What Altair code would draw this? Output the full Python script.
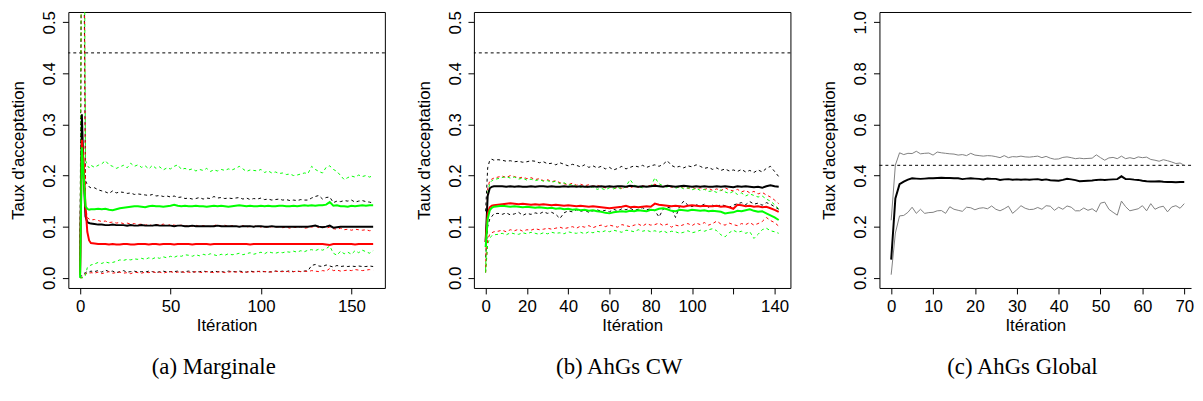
import altair as alt
import pandas as pd

# ---------------- data (acceptance rates in thousandths) ----------------
TARGET = [0.44]

# (a) Marginale : iterations 0..6 then every 2nd iteration up to 162
ITER_A = [0, 1, 2, 3, 4, 5, 6] + list(range(8, 163, 2))
A_BLK_MEAN = [10, 320, 200, 120, 109, 107, 106,
              105, 104, 104, 103, 103, 104, 103, 103, 103, 102, 103, 102, 102,
              103, 102, 102, 102, 103, 102, 102, 102, 102, 101, 102, 102, 101,
              101, 102, 101, 101, 101, 101, 101, 101, 102, 101, 101, 101, 101,
              101, 100, 101, 101, 101, 100, 101, 101, 100, 100, 101, 100, 100,
              100, 100, 100, 100, 100, 100, 100, 100, 101, 102, 100, 99, 100,
              102, 98, 99, 100, 100, 100, 100, 100, 100, 100, 100, 100, 100]
A_BLK_HI = [20, 900, 700, 190, 182, 178, 176,
            176, 172, 170, 168, 165, 170, 166, 168, 167, 165, 166, 163, 164,
            163, 162, 161, 163, 160, 161, 159, 160, 158, 160, 157, 158, 155,
            156, 154, 155, 157, 154, 156, 155, 159, 156, 157, 155, 156, 155,
            156, 157, 154, 156, 153, 155, 154, 156, 153, 154, 152, 153, 154,
            152, 153, 151, 152, 151, 153, 152, 152, 156, 159, 161, 154, 157,
            158, 147, 150, 149, 151, 150, 152, 148, 150, 151, 149, 148, 146]
A_BLK_LO = [0, 5, 8, 10, 12, 11, 13,
            12, 14, 11, 15, 12, 13, 10, 12, 14, 11, 12, 13, 11,
            12, 11, 13, 12, 10, 12, 13, 11, 12, 12, 13, 11, 12,
            13, 12, 11, 12, 13, 12, 11, 13, 12, 12, 11, 13, 12,
            12, 13, 12, 11, 13, 12, 12, 13, 12, 11, 12, 13, 12,
            13, 12, 14, 12, 13, 12, 13, 14, 24, 26, 23, 22, 25,
            23, 21, 24, 22, 23, 22, 23, 22, 23, 22, 22, 23, 22]
A_RED_MEAN = [5, 270, 220, 140, 90, 73, 68,
              67, 66, 66, 66, 65, 66, 65, 65, 66, 66, 65, 65, 66,
              66, 66, 65, 66, 66, 65, 66, 66, 66, 65, 66, 66, 66,
              66, 65, 66, 66, 66, 66, 65, 66, 66, 66, 66, 66, 66,
              66, 66, 66, 66, 65, 66, 66, 66, 66, 66, 66, 66, 66,
              66, 66, 66, 66, 66, 66, 66, 66, 66, 66, 66, 66, 65,
              64, 66, 66, 66, 66, 66, 66, 65, 66, 66, 66, 66, 66]
A_RED_HI = [10, 800, 900, 140, 118, 115, 113,
            114, 112, 110, 111, 108, 109, 107, 108, 106, 107, 105, 106, 104,
            105, 103, 104, 102, 104, 103, 105, 102, 104, 103, 102, 103, 101,
            102, 101, 103, 100, 102, 101, 100, 102, 104, 101, 103, 100, 102,
            101, 100, 102, 99, 101, 100, 102, 99, 100, 98, 100, 99, 100,
            98, 99, 97, 99, 98, 100, 97, 98, 99, 101, 98, 100, 97,
            99, 96, 95, 97, 94, 95, 93, 95, 94, 93, 94, 92, 93]
A_RED_LO = [0, 0, 3, 8, 9, 8, 10,
            9, 11, 8, 10, 12, 9, 10, 11, 9, 10, 8, 11, 10,
            9, 11, 10, 12, 10, 11, 9, 11, 12, 10, 11, 12, 10,
            11, 10, 12, 11, 10, 12, 11, 10, 11, 12, 10, 11, 12,
            11, 12, 10, 11, 12, 11, 13, 11, 12, 12, 11, 13, 12,
            12, 13, 11, 12, 13, 12, 13, 12, 14, 13, 12, 14, 13,
            18, 14, 15, 13, 14, 15, 14, 16, 15, 14, 15, 16, 15]
A_GRN_MEAN = [0, 255, 200, 140, 135, 133, 134,
              134, 135, 134, 135, 133, 132, 134, 136, 137, 138, 139, 140, 140,
              139, 138, 140, 141, 140, 140, 139, 140, 141, 143, 141, 140, 141,
              140, 140, 141, 140, 140, 139, 140, 141, 140, 141, 140, 139, 140,
              141, 142, 141, 140, 141, 140, 140, 141, 140, 141, 140, 140, 141,
              141, 140, 140, 141, 140, 141, 142, 141, 142, 141, 142, 142, 143,
              148, 141, 142, 140, 140, 139, 141, 140, 141, 142, 141, 142, 142]
A_GRN_HI = [10, 900, 950, 230, 220, 215, 220,
            216, 220, 223, 229, 221, 218, 214, 217, 220, 215, 224, 218, 221,
            216, 219, 213, 220, 214, 217, 211, 215, 213, 218, 221, 212, 214,
            211, 213, 209, 212, 210, 214, 208, 211, 209, 212, 210, 213, 211,
            214, 218, 213, 208, 211, 210, 209, 212, 206, 209, 205, 207, 204,
            205, 202, 203, 200, 201, 203, 205, 204, 218, 212, 208, 205, 216,
            219, 212, 208, 200, 192, 196, 199, 197, 201, 198, 200, 197, 200]
A_GRN_LO = [0, 0, 0, 5, 20, 22, 25,
            27, 30, 28, 31, 29, 30, 32, 35, 34, 36, 35, 37, 36,
            38, 36, 39, 37, 40, 38, 41, 39, 42, 40, 43, 42, 45,
            44, 42, 45, 43, 46, 44, 47, 45, 43, 46, 44, 47, 45,
            46, 48, 45, 47, 49, 46, 48, 50, 47, 51, 49, 48, 50,
            49, 51, 50, 52, 50, 53, 51, 54, 55, 53, 56, 54, 57,
            62, 48, 44, 52, 47, 50, 46, 53, 49, 54, 51, 48, 53]

# (b) AhGs CW : iterations 0..4 then every 2nd iteration up to 142
ITER_B = [0, 1, 2, 3, 4] + list(range(6, 143, 2))
B_BLK_MEAN = [70, 160, 175, 178, 179,
              179, 179, 178, 179, 178, 179, 178, 178, 179, 178, 179, 179, 178,
              179, 178, 178, 179, 178, 179, 178, 179, 178, 178, 179, 178, 179,
              178, 179, 178, 179, 179, 178, 180, 179, 178, 179, 178, 179, 180,
              179, 178, 180, 179, 178, 179, 180, 179, 178, 179, 178, 179, 178,
              178, 179, 178, 179, 178, 177, 179, 178, 179, 178, 177, 178, 176,
              179, 181, 179, 178]
B_BLK_HI = [130, 215, 230, 232, 230,
            231, 230, 228, 229, 227, 228, 226, 227, 229, 228, 225, 227, 223,
            224, 221, 225, 222, 219, 222, 220, 217, 221, 216, 219, 215, 218,
            213, 216, 211, 214, 218, 213, 216, 219, 217, 220, 216, 219, 221,
            218, 222, 229, 220, 216, 218, 215, 219, 217, 221, 218, 214, 216,
            212, 215, 210, 213, 209, 211, 208, 212, 207, 210, 206, 211, 207,
            214, 218, 208, 198]
B_BLK_LO = [40, 100, 115, 120, 125,
            126, 124, 127, 123, 125, 128, 122, 126, 124, 127, 125, 129, 126,
            128, 124, 116, 127, 131, 129, 133, 130, 132, 128, 131, 133, 130,
            132, 129, 134, 131, 135, 133, 136, 132, 134, 137, 133, 135, 131,
            119, 134, 138, 136, 118, 140, 150, 142, 139, 143, 140, 144, 138,
            142, 139, 143, 141, 138, 142, 145, 147, 143, 149, 144, 146, 142,
            147, 144, 139, 134]
B_RED_MEAN = [70, 125, 138, 141, 142,
              143, 144, 145, 146, 145, 144, 145, 144, 143, 144, 143, 144, 143,
              142, 143, 142, 141, 142, 141, 140, 141, 140, 139, 140, 139, 138,
              137, 136, 137, 138, 139, 141, 138, 139, 138, 139, 140, 139, 145,
              143, 142, 141, 140, 141, 140, 139, 141, 142, 141, 140, 141, 140,
              140, 141, 139, 140, 138, 135, 143, 142, 140, 141, 139, 140, 138,
              139, 136, 133, 129]
B_RED_HI = [20, 175, 190, 193, 195,
            197, 199, 196, 200, 198, 195, 197, 194, 196, 192, 194, 190, 192,
            188, 190, 186, 184, 182, 185, 181, 183, 180, 182, 179, 181, 178,
            176, 179, 174, 177, 175, 178, 176, 179, 177, 180, 178, 181, 183,
            180, 178, 181, 177, 179, 176, 178, 175, 177, 174, 176, 173, 175,
            171, 174, 170, 176, 172, 170, 173, 168, 171, 166, 169, 164, 167,
            162, 158, 152, 145]
B_RED_LO = [10, 75, 85, 88, 90,
            91, 93, 90, 94, 92, 95, 91, 94, 93, 96, 94, 95, 97,
            95, 97, 99, 96, 98, 100, 97, 101, 99, 102, 98, 101, 103,
            100, 103, 101, 99, 104, 102, 100, 103, 105, 101, 106, 103, 104,
            107, 102, 105, 99, 103, 101, 104, 106, 102, 107, 104, 108, 103,
            106, 111, 105, 103, 107, 104, 102, 106, 104, 108, 103, 106, 110,
            118, 112, 108, 101]
B_GRN_MEAN = [60, 115, 132, 137, 139,
              140, 141, 140, 139, 140, 139, 138, 139, 138, 137, 138, 137, 136,
              137, 135, 136, 134, 135, 133, 134, 132, 133, 131, 132, 130, 129,
              127, 126, 128, 129, 130, 129, 131, 130, 132, 131, 130, 133, 132,
              135, 136, 134, 131, 130, 133, 132, 131, 133, 132, 131, 132, 130,
              131, 130, 129, 126, 127, 128, 131, 130, 132, 134, 131, 129, 130,
              126, 122, 118, 113]
B_GRN_HI = [15, 165, 185, 190, 192,
            194, 196, 198, 195, 197, 193, 195, 191, 193, 190, 192, 189, 190,
            187, 189, 184, 186, 181, 183, 179, 177, 180, 176, 178, 173, 175,
            172, 176, 174, 177, 173, 179, 192, 181, 178, 176, 179, 177, 196,
            184, 180, 177, 179, 175, 178, 174, 176, 172, 175, 171, 173, 169,
            170, 167, 172, 168, 165, 169, 163, 166, 160, 164, 161, 158, 160,
            154, 150, 143, 135]
B_GRN_LO = [10, 65, 78, 82, 84,
            85, 87, 84, 88, 86, 85, 88, 86, 89, 87, 85, 88, 86,
            89, 87, 88, 86, 90, 88, 87, 89, 86, 90, 88, 91, 89,
            92, 90, 93, 91, 89, 93, 92, 90, 94, 91, 93, 90, 92,
            89, 92, 88, 91, 90, 87, 89, 92, 88, 90, 93, 91, 94,
            96, 92, 84, 80, 88, 93, 89, 91, 87, 90, 77, 85, 94,
            97, 92, 90, 87]

# (c) AhGs Global : iterations 0..70
ITER_C = list(range(0, 71))
C_MEAN = [71, 310, 366, 376, 384, 389, 388, 387, 388, 389,
          389, 390, 391, 390, 390, 389, 389, 386, 388, 389,
          388, 387, 385, 388, 387, 387, 383, 385, 386, 384,
          385, 384, 385, 384, 385, 386, 383, 385, 382, 381,
          380, 383, 387, 385, 382, 378, 379, 380, 381, 383,
          384, 383, 384, 385, 386, 397, 386, 386, 384, 383,
          380, 378, 377, 377, 378, 376, 375, 375, 374, 375,
          375]
C_HI = [225, 441, 489, 482, 487, 486, 495, 485, 487, 488,
        480, 492, 489, 487, 485, 484, 480, 482, 478, 487,
        480, 478, 476, 478, 477, 474, 470, 478, 470, 474,
        473, 476, 473, 472, 474, 476, 470, 475, 468, 464,
        465, 471, 473, 470, 466, 468, 466, 467, 468, 481,
        470, 460, 469, 471, 466, 476, 466, 470, 466, 473,
        470, 472, 463, 460, 456, 462, 458, 453, 447, 449,
        440]
C_LO = [12, 175, 242, 244, 256, 276, 252, 268, 252, 255,
        256, 262, 263, 252, 278, 268, 264, 260, 276, 274,
        266, 272, 274, 270, 281, 268, 262, 270, 280, 252,
        266, 282, 272, 267, 268, 275, 268, 282, 280, 264,
        276, 268, 281, 276, 262, 262, 273, 264, 270, 258,
        292, 296, 268, 256, 245, 300, 278, 262, 266, 270,
        282, 262, 290, 268, 276, 280, 258, 277, 282, 272,
        290]

CAPTIONS = ["(a)  Marginale", "(b)  AhGs CW", "(c)  AhGs Global"]
XTICKS_A = [0, 50, 100, 150]
XTICKS_B = [0, 20, 40, 60, 80, 100, 120, 140]
XTICKS_C = [0, 10, 20, 30, 40, 50, 60, 70]
YTICKS_AB = [0.0, 0.1, 0.2, 0.3, 0.4, 0.5]
YTICKS_C = [0.0, 0.2, 0.4, 0.6, 0.8, 1.0]

BLACK, RED, GREEN, GREY = "#000000", "#FF0000", "#00FF00", "#808080"
FONT = "Liberation Sans"
LABEL_SIZE = 17
TITLE_SIZE = 17


def frame(iters, series):
    rows = []
    for name, color, kind, width, vals in series:
        assert len(vals) == len(iters), (name, len(vals), len(iters))
        for it, v in zip(iters, vals):
            rows.append({"it": it, "rate": v / 1000.0, "series": name,
                         "col": color, "kind": kind, "w": width})
    return pd.DataFrame(rows)


def axes(xticks, yticks, label_expr=None, domain=False):
    xkw = dict(values=xticks, title="Itération", labelFont=FONT,
               labelFontSize=LABEL_SIZE, labelColor="black", labelBaseline="top",
               labelPadding=5, tickSize=6, tickColor="black", tickWidth=1,
               domain=domain, domainColor="black", domainWidth=1, grid=False,
               titleFont=FONT, titleFontSize=TITLE_SIZE, titleFontWeight="normal",
               titleColor="black", titlePadding=3, labelOverlap=False,
               labelFlush=False, minExtent=0)
    if label_expr:
        xkw["labelExpr"] = label_expr
    xa = alt.Axis(**xkw)
    ya = alt.Axis(values=yticks, format=".1f", title="Taux d'acceptation",
                  labelFont=FONT, labelFontSize=LABEL_SIZE, labelColor="black",
                  labelAngle=270, labelAlign="center", labelBaseline="alphabetic",
                  labelPadding=8, tickSize=6, tickColor="black", tickWidth=1,
                  domain=domain, domainColor="black", domainWidth=1, grid=False,
                  titleFont=FONT, titleFontSize=TITLE_SIZE, titleFontWeight="normal",
                  titleColor="black", titleAngle=270, titleAlign="center",
                  titleBaseline="alphabetic", titleX=-45, labelOverlap=False,
                  labelFlush=False, minExtent=0)
    return xa, ya


def caption(text):
    return alt.TitleParams(text=text, orient="bottom", anchor="middle",
                           font="Liberation Serif", fontSize=23,
                           fontWeight="normal", color="black", offset=23, dx=-13)


def panel_colored(iters, series, xdom, xticks, width, cap, label_expr=None):
    df = frame(iters, series)
    dfq = df[df["kind"] != "mean"]
    dfm = df[df["kind"] == "mean"]
    xs = alt.Scale(domain=xdom, nice=False, zero=False)
    ys = alt.Scale(domain=[-0.02, 0.52], nice=False, zero=False)
    xa, ya = axes(xticks, YTICKS_AB, label_expr)
    X = alt.X("it:Q", scale=xs, axis=xa)
    Y = alt.Y("rate:Q", scale=ys, axis=ya)
    ref = alt.Chart(pd.DataFrame({"rate": TARGET})).mark_rule(
        color="black", strokeWidth=1, strokeDash=[3, 3]).encode(y=Y)
    q = alt.Chart(dfq).mark_line(strokeWidth=1, strokeDash=[3, 3], clip=True).encode(
        x=X, y=Y, color=alt.Color("col:N", scale=None), detail="series:N")
    m = alt.Chart(dfm).mark_line(strokeWidth=2, clip=True).encode(
        x=X, y=Y, color=alt.Color("col:N", scale=None), detail="series:N")
    return alt.layer(ref, q, m).properties(
        width=width, height=279, title=caption(cap),
        view=alt.ViewBackground(stroke="black", strokeWidth=1, fill="white"))


# ---------------- panels ----------------
p1 = panel_colored(ITER_A, [
    ("bh", BLACK, "hi", 1, A_BLK_HI), ("bl", BLACK, "lo", 1, A_BLK_LO),
    ("rh", RED, "hi", 1, A_RED_HI), ("rl", RED, "lo", 1, A_RED_LO),
    ("gh", GREEN, "hi", 1, A_GRN_HI), ("gl", GREEN, "lo", 1, A_GRN_LO),
    ("bm", BLACK, "mean", 2, A_BLK_MEAN), ("rm", RED, "mean", 2, A_RED_MEAN),
    ("gm", GREEN, "mean", 2, A_GRN_MEAN)],
    [-6.48, 168.48], XTICKS_A, 320, CAPTIONS[0])

p2 = panel_colored(ITER_B, [
    ("bh", BLACK, "hi", 1, B_BLK_HI), ("bl", BLACK, "lo", 1, B_BLK_LO),
    ("rh", RED, "hi", 1, B_RED_HI), ("rl", RED, "lo", 1, B_RED_LO),
    ("gh", GREEN, "hi", 1, B_GRN_HI), ("gl", GREEN, "lo", 1, B_GRN_LO),
    ("bm", BLACK, "mean", 2, B_BLK_MEAN), ("rm", RED, "mean", 2, B_RED_MEAN),
    ("gm", GREEN, "mean", 2, B_GRN_MEAN)],
    [-5.68, 147.68], XTICKS_B, 320, CAPTIONS[1],
    label_expr="datum.value == 120 ? '' : datum.label")

# panel (c): right edge of the frame falls outside the page
df3 = frame(ITER_C, [("hi", GREY, "hi", 1, C_HI), ("lo", GREY, "lo", 1, C_LO),
                     ("mean", BLACK, "mean", 2, C_MEAN)])
W3 = 315
xs3 = alt.Scale(domain=[-2.8, -2.8 + W3 * 75.6 / 320.0], nice=False, zero=False)
ys3 = alt.Scale(domain=[-0.04, 1.04], nice=False, zero=False)
xa3, ya3 = axes(XTICKS_C, YTICKS_C, domain=True)
X3 = alt.X("it:Q", scale=xs3, axis=xa3)
Y3 = alt.Y("rate:Q", scale=ys3, axis=ya3)
ref3 = alt.Chart(pd.DataFrame({"rate": TARGET})).mark_rule(
    color="black", strokeWidth=1, strokeDash=[3, 3]).encode(y=Y3)
lines3 = alt.Chart(df3).mark_line(clip=True).encode(
    x=X3, y=Y3, color=alt.Color("col:N", scale=None),
    strokeWidth=alt.StrokeWidth("w:Q", scale=None), detail="series:N")
top3 = alt.Chart(df3).mark_line(opacity=0).encode(
    x=alt.X("it:Q", scale=xs3,
            axis=alt.Axis(orient="top", labels=False, ticks=False, domain=True,
                          domainColor="black", domainWidth=1, grid=False,
                          title=None, minExtent=0, maxExtent=0, offset=0)),
    y=Y3, detail="series:N")
p3 = alt.layer(ref3, lines3, top3).resolve_axis(x="independent").properties(
    width=W3, height=279, title=caption(CAPTIONS[2]),
    view=alt.ViewBackground(stroke="transparent", fill="white"))

chart = alt.hconcat(p1, p2, p3, spacing=90, bounds="flush").properties(
    padding={"left": 1, "top": 0, "right": 0, "bottom": 0},
    background="white")

chart.save("out.html", embed_options={"renderer": "svg", "actions": False})
